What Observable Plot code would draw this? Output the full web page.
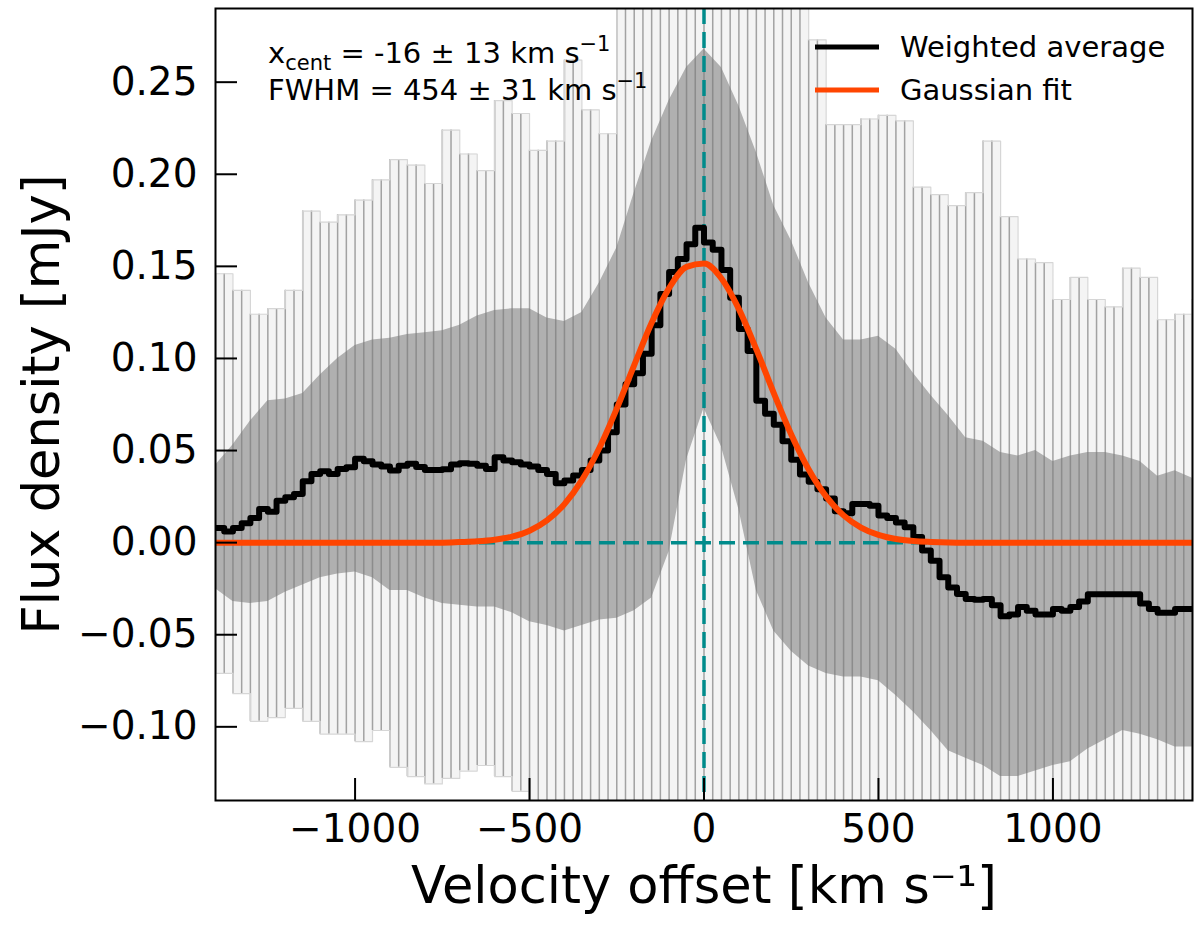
<!DOCTYPE html>
<html>
<head>
<meta charset="utf-8">
<script src="https://cdn.jsdelivr.net/npm/d3@7"></script>
<script src="https://cdn.jsdelivr.net/npm/@observablehq/plot@0.6"></script>
<style>
  body { margin: 0; background: #fff; }
  #chart svg { display: block; }
</style>
</head>
<body>
<div id="chart"></div>
<script>
// left edge of each 25 km/s channel
const chanLeft = d3.range(-1400, 1400, 25)

// weighted average spectrum (mJy), one value per channel
const avgFlux = [
  0.008, 0.006, 0.008, 0.0105, 0.0134, 0.0183, 0.0168, 0.0228, 0.0246, 0.0264,
  0.0333, 0.0373, 0.0388, 0.0373, 0.0400, 0.0409, 0.0455, 0.0442, 0.0424, 0.0413,
  0.0391, 0.0418, 0.0428, 0.0410, 0.0395, 0.0395, 0.0398, 0.0424, 0.0431, 0.0428,
  0.0418, 0.0400, 0.0464, 0.0446, 0.0437, 0.0424, 0.0413, 0.0395, 0.0373, 0.0322,
  0.0337, 0.0364, 0.0395, 0.0446, 0.050, 0.060, 0.075, 0.086, 0.092, 0.1025,
  0.118, 0.135, 0.147, 0.154, 0.162, 0.171, 0.163, 0.159, 0.148, 0.133,
  0.116, 0.104, 0.077, 0.070, 0.064, 0.055, 0.045, 0.037, 0.033, 0.029,
  0.024, 0.017, 0.016, 0.021, 0.021, 0.020, 0.0147, 0.0134, 0.011, 0.0083,
  0.003, -0.0043, -0.0098, -0.0188, -0.0243, -0.0279, -0.0306, -0.031, -0.0306, -0.034,
  -0.040, -0.039, -0.035, -0.037, -0.039, -0.039, -0.036, -0.037, -0.035, -0.032,
  -0.028, -0.028, -0.028, -0.028, -0.028, -0.028, -0.033, -0.036, -0.038, -0.038,
  -0.036, -0.036
]

// bootstrap envelopes, every 50 km/s
const envVel = d3.range(-1400, 1401, 50)
const bandHi = [
  0.042, 0.053, 0.066, 0.077, 0.078, 0.081, 0.091, 0.100, 0.107, 0.110,
  0.111, 0.113, 0.114, 0.115, 0.118, 0.123, 0.126, 0.127, 0.127, 0.122,
  0.120, 0.125, 0.141, 0.160, 0.190, 0.218, 0.240, 0.258, 0.268, 0.258,
  0.237, 0.212, 0.183, 0.164, 0.141, 0.122, 0.110, 0.110, 0.112, 0.105,
  0.092, 0.080, 0.069, 0.057, 0.055, 0.049, 0.047, 0.050, 0.044, 0.047,
  0.049, 0.049, 0.047, 0.044, 0.036, 0.039, 0.035
]
const bandLo = [
  -0.025, -0.032, -0.033, -0.032, -0.027, -0.023, -0.019, -0.017, -0.016, -0.019,
  -0.026, -0.026, -0.030, -0.033, -0.034, -0.035, -0.035, -0.038, -0.043, -0.045,
  -0.048, -0.045, -0.042, -0.041, -0.037, -0.030, -0.005, 0.045, 0.073, 0.052,
  0.018, -0.026, -0.048, -0.059, -0.067, -0.071, -0.073, -0.073, -0.075, -0.083,
  -0.092, -0.102, -0.113, -0.117, -0.121, -0.127, -0.127, -0.124, -0.121, -0.119,
  -0.112, -0.107, -0.102, -0.104, -0.107, -0.111, -0.111
]
const outerHi = [
  0.146, 0.137, 0.124, 0.127, 0.137, 0.180, 0.174, 0.178, 0.186, 0.197,
  0.208, 0.205, 0.195, 0.224, 0.211, 0.202, 0.240, 0.233, 0.213, 0.218,
  0.262, 0.235, 0.222, 0.30, 0.30, 0.30, 0.30, 0.30, 0.30, 0.30,
  0.30, 0.30, 0.30, 0.30, 0.273, 0.227, 0.227, 0.230, 0.232, 0.229,
  0.193, 0.189, 0.183, 0.190, 0.218, 0.177, 0.154, 0.152, 0.132, 0.144,
  0.132, 0.128, 0.149, 0.144, 0.121, 0.124, 0.132
]
const outerLo = [
  -0.071, -0.082, -0.097, -0.095, -0.090, -0.097, -0.104, -0.104, -0.108, -0.102,
  -0.122, -0.127, -0.131, -0.128, -0.124, -0.121, -0.127, -0.135, -0.15, -0.15,
  -0.15, -0.15, -0.15, -0.15, -0.15, -0.15, -0.15, -0.15, -0.15, -0.15,
  -0.15, -0.15, -0.15, -0.15, -0.15, -0.15, -0.15, -0.15, -0.15, -0.15,
  -0.15, -0.15, -0.15, -0.15, -0.15, -0.15, -0.15, -0.15, -0.15, -0.15,
  -0.15, -0.15, -0.15, -0.15, -0.15, -0.15, -0.15
]

// gaussian fit, read every 50 km/s
const gaussVel = d3.range(-1400, 1401, 50)
const gaussFlux = [
  0, 0, 0, 0, 0, 0, 0, 0, 0, 0, 0, 0, 0, 0,
  0.0003, 0.0007, 0.0016, 0.0033, 0.0065, 0.0121, 0.0209, 0.0339, 0.0514, 0.0728,
  0.0964, 0.1194, 0.1382, 0.1497, 0.1515, 0.1434, 0.1268, 0.1049, 0.0812, 0.0587,
  0.0397, 0.0251, 0.0148, 0.0082, 0.0042, 0.0020, 0.0009, 0.0004, 0.0001,
  0, 0, 0, 0, 0, 0, 0, 0, 0, 0, 0, 0, 0, 0
]

const yTicks = [-0.10, -0.05, 0, 0.05, 0.10, 0.15, 0.20, 0.25]
const xTicks = [-1000, -500, 0, 500, 1000]

const spec = chanLeft.map((v, i) => ({v, f: avgFlux[i]}))
spec.push({v: 1400, f: avgFlux[avgFlux.length - 1]})

const env = envVel.map((v, i) => ({v, hi: bandHi[i], lo: bandLo[i], ohi: outerHi[i], olo: outerLo[i]}))
// a rule on both channel edges covered by each envelope sample
const edges = env.flatMap(d => [d.v, d.v + 25].filter(x => x <= 1400).map(x => ({x, ohi: d.ohi, olo: d.olo})))

const gauss = gaussVel.map((v, i) => ({v, f: gaussFlux[i]}))

const chart = Plot.plot({
  width: 1200,
  height: 928,
  marginLeft: 215,
  marginRight: 8,
  marginTop: 8,
  marginBottom: 128,
  x: {domain: [-1400, 1400]},
  y: {domain: [-0.14, 0.29]},
  style: {fontFamily: 'DejaVu Sans', color: 'black', background: 'white'},
  marks: [
    Plot.areaY(env, {x: 'v', y1: 'olo', y2: 'ohi', curve: 'step-after', fill: '#f4f4f4', clip: true}),
    Plot.areaY(env, {x: 'v', y1: 'lo', y2: 'hi', fill: '#b0b0b0', clip: true}),
    Plot.ruleX(edges, {x: 'x', y1: 'olo', y2: 'ohi', stroke: '#7a7a7a', strokeOpacity: 0.68, strokeWidth: 1.5, clip: true}),
    Plot.line(env, {x: 'v', y: 'ohi', curve: 'step-after', stroke: '#d6d6d6', strokeWidth: 1.2, clip: true}),
    Plot.line(env, {x: 'v', y: 'olo', curve: 'step-after', stroke: '#d6d6d6', strokeWidth: 1.2, clip: true}),
    Plot.ruleX([0], {stroke: '#008b8b', strokeWidth: 3.5, strokeDasharray: '16,8'}),
    Plot.ruleY([0], {stroke: '#008b8b', strokeWidth: 3.5, strokeDasharray: '16,8'}),
    Plot.line(spec, {x: 'v', y: 'f', curve: 'step-after', stroke: 'black', strokeWidth: 6, clip: true}),
    Plot.line(gauss, {x: 'v', y: 'f', curve: 'monotone-x', stroke: '#ff4500', strokeWidth: 6, clip: true}),
    Plot.frame({stroke: 'black', strokeWidth: 2}),
    Plot.axisY(yTicks, {anchor: 'left', tickSize: 22, dx: 22, strokeWidth: 2, tickFormat: () => '', label: null}),
    Plot.axisY(yTicks, {anchor: 'left', tickSize: 0, tickPadding: 18, tickFormat: d3.format('.2f'), fontSize: 39, label: null}),
    Plot.axisX(xTicks, {anchor: 'bottom', tickSize: 22, dy: -22, strokeWidth: 2, tickFormat: () => '', label: null}),
    Plot.axisX(xTicks, {anchor: 'bottom', tickSize: 0, tickPadding: 14, tickFormat: d3.format('d'), fontSize: 39, label: null}),
    Plot.text(['Velocity offset [km s⁻¹]'], {text: d => d, frameAnchor: 'bottom', textAnchor: 'middle', lineAnchor: 'middle', dy: 86, fontSize: 51}),
    Plot.text(['Flux density [mJy]'], {text: d => d, frameAnchor: 'left', textAnchor: 'middle', lineAnchor: 'middle', rotate: -90, dx: -173, fontSize: 51})
  ]
})

d3.select('#chart').append(() => chart)

// fit results and legend
const svg = d3.select(chart)
const notes = svg.append('g')
  .attr('font-family', 'DejaVu Sans')
  .attr('font-size', 29)
  .attr('fill', 'black')
  .attr('text-anchor', 'start')

const t1 = notes.append('text').attr('x', 268).attr('y', 63)
t1.append('tspan').text('x')
t1.append('tspan').attr('font-size', 21).attr('dy', 7).text('cent')
t1.append('tspan').attr('dy', -7).text(' = -16 ± 13 km s')
t1.append('tspan').attr('font-size', 21).attr('dy', -12).text('−1')

const t2 = notes.append('text').attr('x', 268).attr('y', 100)
t2.append('tspan').text('FWHM = 454 ± 31 km s')
t2.append('tspan').attr('font-size', 21).attr('dy', -12).text('−1')

const legend = [['Weighted average', 'black', 47], ['Gaussian fit', '#ff4500', 90]]
legend.forEach(([label, color, y]) => {
  notes.append('line').attr('x1', 815).attr('x2', 879).attr('y1', y).attr('y2', y)
    .attr('stroke', color).attr('stroke-width', 5)
  notes.append('text').attr('x', 900).attr('y', y + 10).text(label)
})
</script>
</body>
</html>
